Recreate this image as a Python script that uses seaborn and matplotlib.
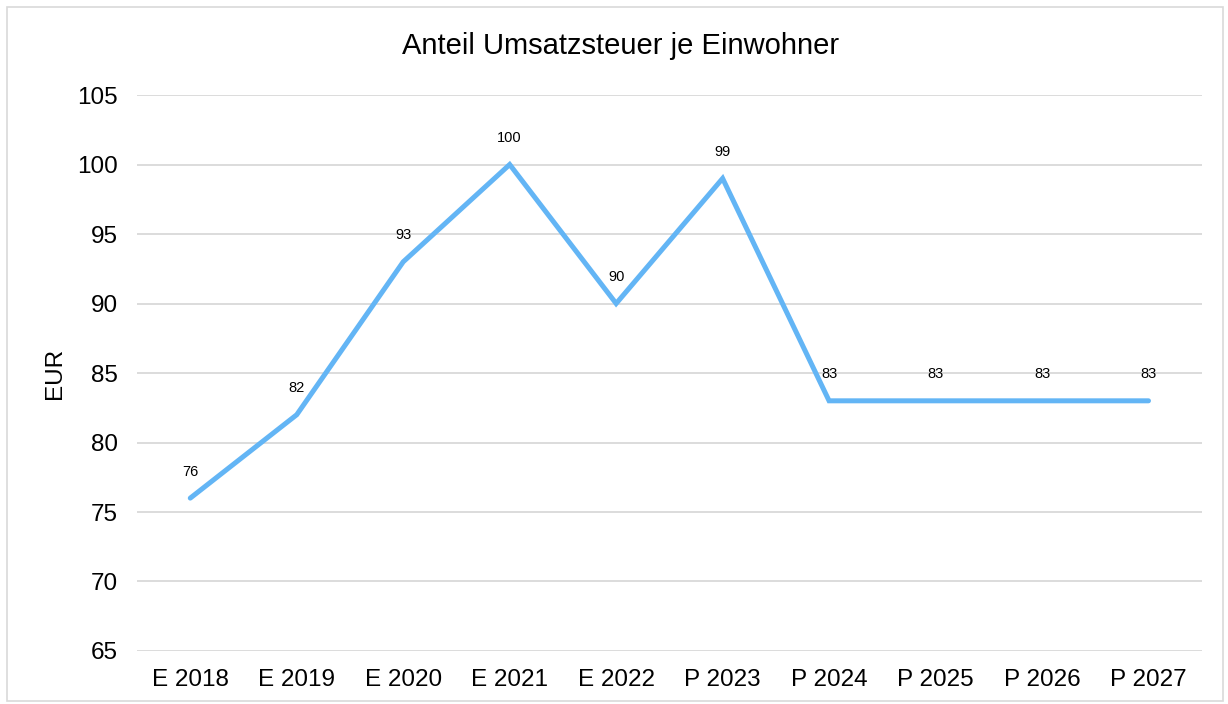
import pandas as pd
import seaborn as sns
import matplotlib.pyplot as plt
from matplotlib.patches import Rectangle

# Daten
jahre = ['E 2018', 'E 2019', 'E 2020', 'E 2021', 'E 2022',
         'P 2023', 'P 2024', 'P 2025', 'P 2026', 'P 2027']
werte = [76, 82, 93, 100, 90, 99, 83, 83, 83, 83]
y_ticks = [65, 70, 75, 80, 85, 90, 95, 100, 105]

df = pd.DataFrame({'jahr': jahre, 'eur': werte})

sns.set_style('white')
plt.rcParams['font.family'] = ['Liberation Sans', 'DejaVu Sans']
plt.rcParams['text.color'] = 'black'
plt.rcParams['axes.labelcolor'] = 'black'
plt.rcParams['xtick.color'] = 'black'
plt.rcParams['ytick.color'] = 'black'

fig = plt.figure(figsize=(12.28, 7.04), dpi=100)
ax = fig.add_axes([0.1116, 0.0753, 0.867, 0.7897])

sns.lineplot(data=df, x='jahr', y='eur', ax=ax, color='#63B5F5',
             linewidth=3.6, sort=False, solid_capstyle='round',
             solid_joinstyle='miter')

# Datenbeschriftungen
for i, v in enumerate(werte):
    ax.annotate(str(v), (i, v), xytext=(0, 19), textcoords='offset points',
                ha='center', va='center', fontsize=10.5, color='black')

ax.set_xlim(-0.5, len(jahre) - 0.5)
ax.set_ylim(65, 105)
ax.set_yticks(y_ticks)
ax.yaxis.grid(True, color='#D9D9D9', linewidth=1.3)
ax.set_axisbelow(True)
for s in ax.spines.values():
    s.set_visible(False)
ax.tick_params(axis='both', length=0, labelsize=17.5)
ax.tick_params(axis='x', pad=13)
ax.tick_params(axis='y', pad=14)

ax.set_xlabel('')
ax.set_ylabel('EUR', fontsize=17.5)
ax.yaxis.set_label_coords(-0.067, 0.5)

fig.text(0.505, 0.935, 'Anteil Umsatzsteuer je Einwohner', ha='center',
         va='center', fontsize=21)

# Rahmen um das Diagramm
fig.patches.append(Rectangle((0.006, 0.004), 0.99, 0.986, transform=fig.transFigure,
                             fill=False, edgecolor='#D9D9D9', linewidth=1.2))

plt.savefig('out.png', dpi=100)
